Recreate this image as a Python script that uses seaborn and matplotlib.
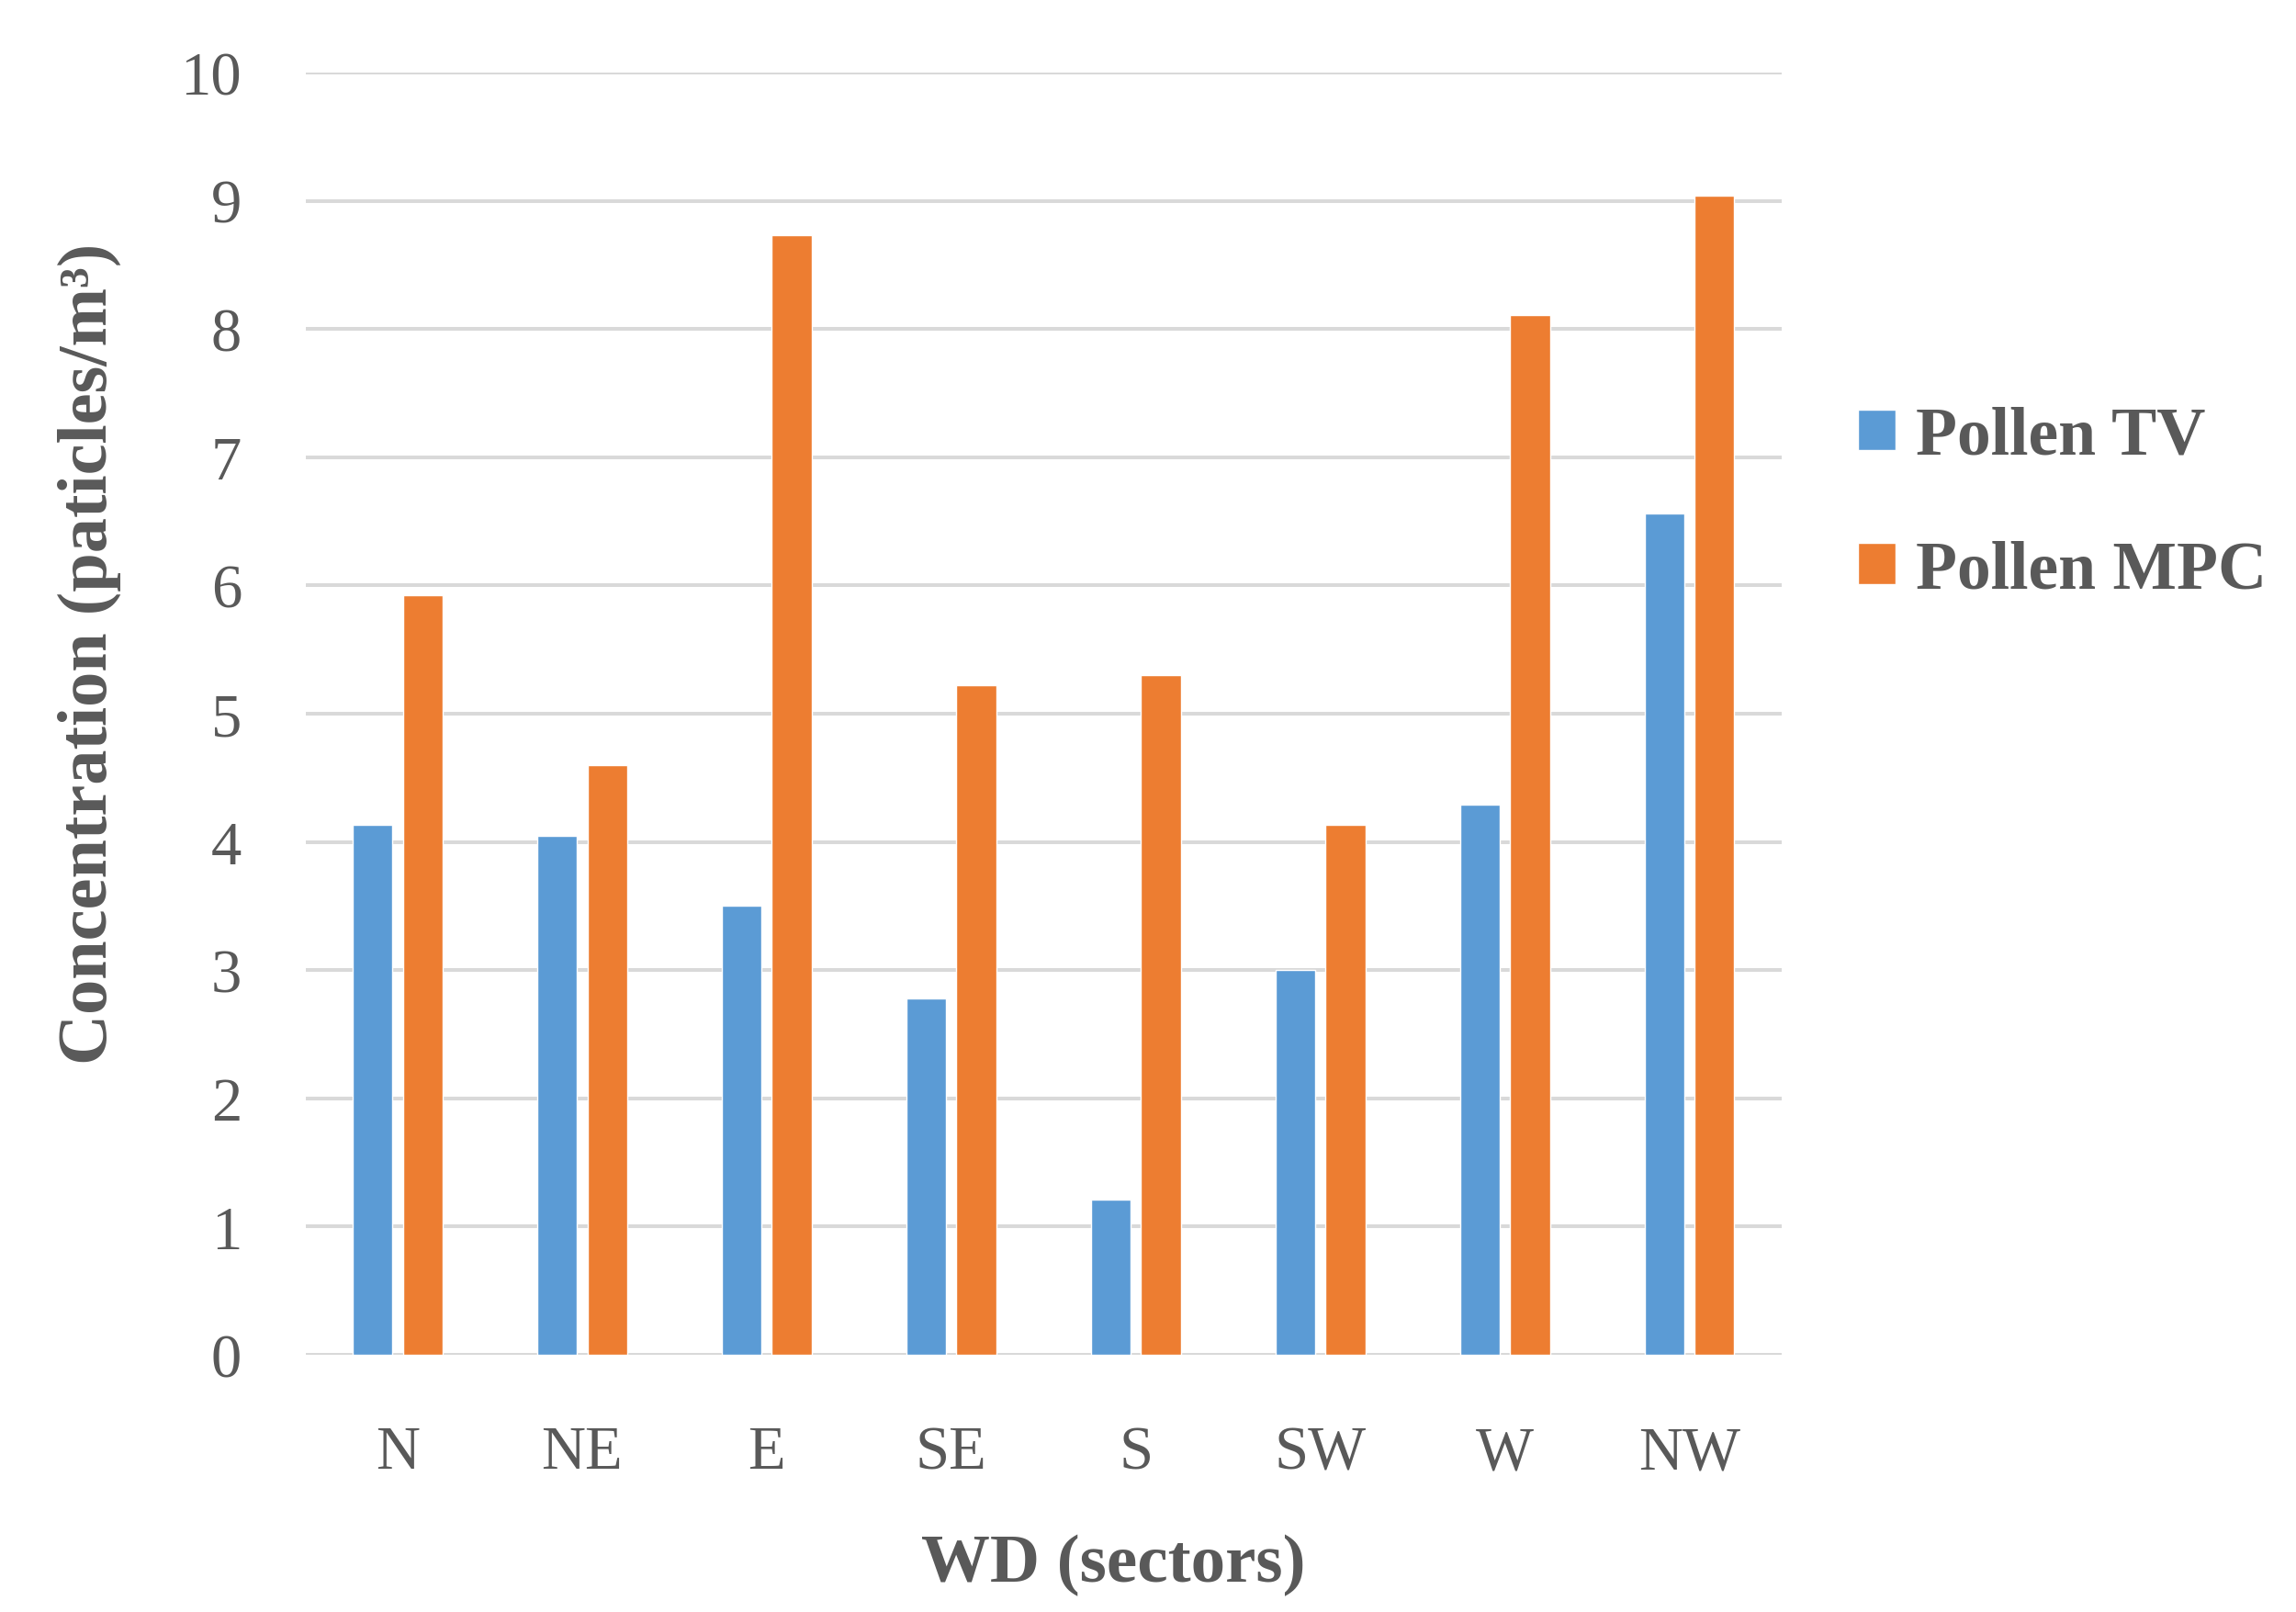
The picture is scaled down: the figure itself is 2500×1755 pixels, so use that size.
import matplotlib
matplotlib.use("Agg")
import matplotlib.pyplot as plt
import seaborn as sns
import pandas as pd

sectors = ["N", "NE", "E", "SE", "S", "SW", "W", "NW"]
pollen_tv = [4.13, 4.05, 3.50, 2.78, 1.21, 3.00, 4.29, 6.56]
pollen_mpc = [5.92, 4.60, 8.73, 5.22, 5.30, 4.13, 8.11, 9.04]
series_names = ["Pollen TV", "Pollen MPC"]
y_ticks = [0, 1, 2, 3, 4, 5, 6, 7, 8, 9, 10]

df = pd.DataFrame({
    "sector": sectors * 2,
    "value": pollen_tv + pollen_mpc,
    "series": [series_names[0]] * len(sectors) + [series_names[1]] * len(sectors),
})

sns.set_theme(style="white")
plt.rcParams["font.family"] = ["Liberation Serif", "DejaVu Serif"]
TXT = "#595959"

fig = plt.figure(figsize=(25, 17.56), dpi=100)
ax = fig.add_axes([0.133, 0.1595, 0.643, 0.795])

sns.barplot(data=df, x="sector", y="value", hue="series", order=sectors,
            hue_order=series_names, palette=["#5B9BD5", "#ED7D31"],
            width=0.543, gap=0.206, ax=ax, saturation=1, errorbar=None, zorder=3)

ax.set_ylim(0, 10)
ax.set_xlim(-0.5, len(sectors) - 0.5)
ax.set_yticks(y_ticks)
ax.yaxis.grid(True, color="#d9d9d9", linewidth=2.9, zorder=0)
ax.set_axisbelow(True)
for s in ax.spines.values():
    s.set_visible(False)
ax.tick_params(axis="both", length=0, labelcolor=TXT, labelsize=48)
ax.tick_params(axis="y", pad=50)
ax.tick_params(axis="x", pad=55)

ax.set_xlabel("WD (sectors)", fontsize=54, fontweight="bold", color=TXT)
ax.set_ylabel("Concentration (paticles/m³)", fontsize=55, fontweight="bold", color=TXT)
ax.xaxis.set_label_coords(0.547, -0.139)
ax.yaxis.set_label_coords(-0.125, 0.547)

handles, labels = ax.get_legend_handles_labels()
if ax.get_legend() is not None:
    ax.get_legend().remove()
leg = fig.legend(handles, labels, loc="center left", bbox_to_anchor=(0.809, 0.687),
                 frameon=False, fontsize=53, handlelength=0.56, handleheight=0.56,
                 handletextpad=0.3, labelspacing=1.05, borderpad=0, borderaxespad=0)
for t in leg.get_texts():
    t.set_color(TXT)
    t.set_fontweight("bold")

fig.savefig("out.png", dpi=100)
